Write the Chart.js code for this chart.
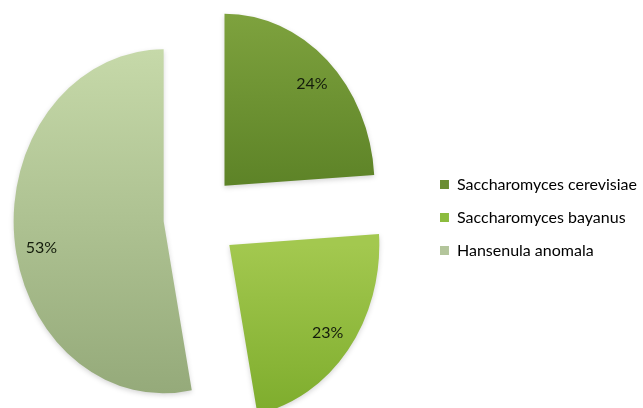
<!DOCTYPE html>
<html><head><meta charset="utf-8">
<script src="https://cdn.jsdelivr.net/npm/chart.js@4.4.0/dist/chart.umd.min.js"></script>
<style>
html,body{margin:0;padding:0;background:#fff;overflow:hidden}
#wrap{width:673px;height:408px;position:relative;margin-left:-26px}
</style>
</head><body><div id="wrap"><canvas id="c"></canvas></div>
<script>
// ---- data ----
const categories = ['Saccharomyces cerevisiae', 'Saccharomyces bayanus', 'Hansenula anomala'];
const shares = [24, 23, 53];

// ---- styles ----
const gradientTops = ['#7ea23e', '#a3c84f', '#c6d9a9'];
const gradientBottoms = ['#5d8327', '#7dac2c', '#95aa7a'];
const legendColors = ['#6b8e32', '#8cbc3e', '#b3c59b'];
const gradientSpan = [[-1, 0], [0, 1], [-1, 1]];
const explodeDist = [38, 39, 35];
const labelAngleNudgeDeg = [1.4, 0, -5.4];
const PIE_RADIUS = 150;
const STRETCH_Y = 1.147;
const LABEL_FRAC = 0.83;

const explodePlugin = {
  id: 'explodeStretch',
  beforeDatasetsDraw(chart) {
    const ctx = chart.ctx;
    const meta = chart.getDatasetMeta(0);
    const total = shares.reduce((a, b) => a + b, 0);
    meta.data.forEach((arc, i) => {
      const mid = (arc.startAngle + arc.endAngle) / 2;
      ctx.save();
      ctx.translate(arc.x, arc.y);
      ctx.scale(1, STRETCH_Y);
      ctx.translate(Math.cos(mid) * explodeDist[i], Math.sin(mid) * explodeDist[i]);
      ctx.translate(-arc.x, -arc.y);
      ctx.shadowColor = 'rgba(0,0,0,0.16)';
      ctx.shadowBlur = 5;
      ctx.shadowOffsetY = 2;
      arc.draw(ctx);
      ctx.restore();
    });
    ctx.save();
    ctx.fillStyle = '#141c0c';
    ctx.font = '16px Lato';
    ctx.textAlign = 'center';
    ctx.textBaseline = 'middle';
    meta.data.forEach((arc, i) => {
      const mid = (arc.startAngle + arc.endAngle) / 2;
      const la = mid + labelAngleNudgeDeg[i] * Math.PI / 180;
      const ex = arc.x + Math.cos(mid) * explodeDist[i];
      const ey = arc.y + Math.sin(mid) * explodeDist[i] * STRETCH_Y;
      const r = LABEL_FRAC * arc.outerRadius;
      const x = ex + Math.cos(la) * r;
      const y = ey + Math.sin(la) * r * STRETCH_Y;
      ctx.fillText(Math.round(shares[i] / total * 100) + '%', x, y);
    });
    ctx.restore();
    return false;
  }
};

new Chart(document.getElementById('c'), {
  type: 'pie',
  data: {
    labels: categories,
    datasets: [{
      data: shares,
      radius: PIE_RADIUS,
      borderWidth: 0,
      backgroundColor(c) {
        const a = c.chart.chartArea;
        const i = c.dataIndex;
        if (!a || i === undefined) return legendColors[i || 0];
        const cy = (a.top + a.bottom) / 2;
        const g = c.chart.ctx.createLinearGradient(0, cy + gradientSpan[i][0] * PIE_RADIUS, 0, cy + gradientSpan[i][1] * PIE_RADIUS);
        g.addColorStop(0, gradientTops[i]);
        g.addColorStop(1, gradientBottoms[i]);
        return g;
      }
    }]
  },
  options: {
    responsive: true,
    maintainAspectRatio: false,
    animation: false,
    layout: { padding: { left: 0, right: 0, top: 27, bottom: 0 } },
    plugins: {
      tooltip: { enabled: false },
      legend: {
        position: 'right',
        onClick: null,
        labels: {
          boxWidth: 9,
          boxHeight: 9,
          padding: 17,
          color: '#2e2e2e',
          font: { family: 'Lato', size: 16 },
          generateLabels(chart) {
            return chart.data.labels.map((l, i) => ({
              text: l, fillStyle: legendColors[i], strokeStyle: legendColors[i],
              lineWidth: 0, hidden: false, index: i
            }));
          }
        }
      }
    }
  },
  plugins: [explodePlugin]
});
</script>
</body></html>
